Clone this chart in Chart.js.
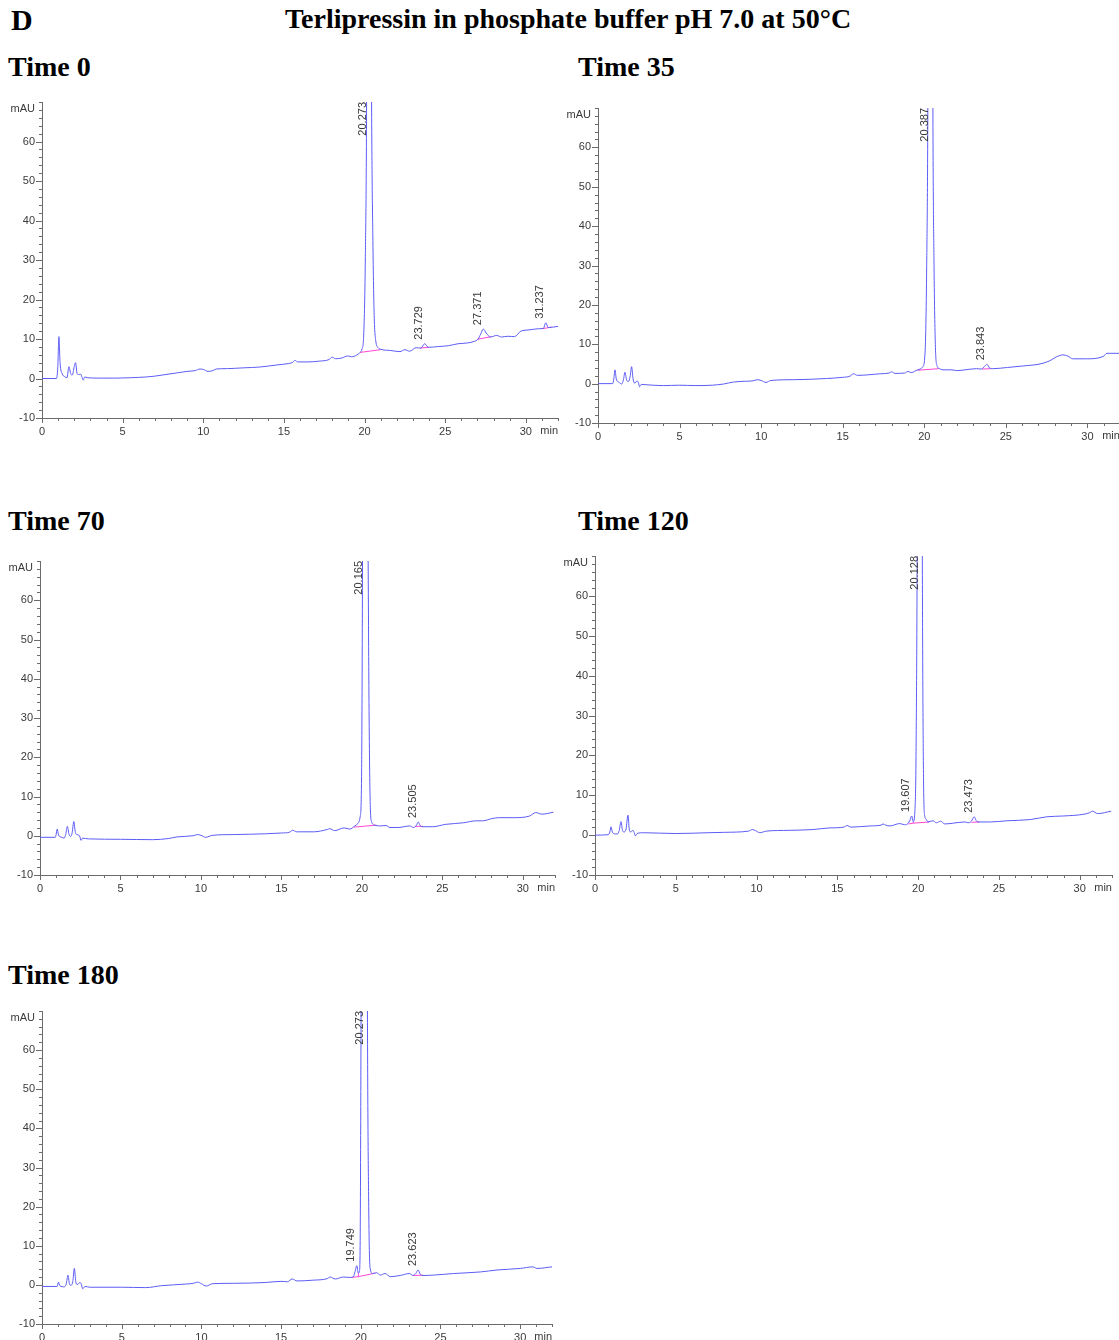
<!DOCTYPE html>
<html><head><meta charset="utf-8">
<script src="https://cdn.jsdelivr.net/npm/chart.js@4.4.1/dist/chart.umd.min.js"></script>
<style>
html,body{margin:0;padding:0;background:#fff;width:1119px;height:1340px;overflow:hidden;position:relative}
.t{position:absolute;font-family:'Liberation Serif','Times New Roman',serif;font-weight:bold;color:#000;white-space:nowrap;line-height:1}
canvas{position:absolute}
</style></head><body>
<div class="t" style="left:11px;top:5px;font-size:30px">D</div>
<div class="t" style="left:285px;top:5px;font-size:28px">Terlipressin in phosphate buffer pH 7.0 at 50°C</div>
<div class="t" style="left:8px;top:53px;font-size:28px">Time 0</div>
<div class="t" style="left:578px;top:53px;font-size:28px">Time 35</div>
<div class="t" style="left:8px;top:507px;font-size:28px">Time 70</div>
<div class="t" style="left:578px;top:507px;font-size:28px">Time 120</div>
<div class="t" style="left:8px;top:961px;font-size:28px">Time 180</div>
<canvas id="c0"></canvas>
<canvas id="c1"></canvas>
<canvas id="c2"></canvas>
<canvas id="c3"></canvas>
<canvas id="c4"></canvas>
<script>
// ---- Data: [retention time (min), absorbance (mAU)] ----
const trace0 = [[0,0],[0.9,0],[0.98,3],[1.05,10.6],[1.12,4],[1.25,1.2],[1.4,0.5],[1.55,0.2],[1.67,3.0],[1.78,1.2],[1.88,0.9],[2.0,3.0],[2.08,4.0],[2.18,1.2],[2.3,1.0],[2.4,1.1],[2.48,0.3],[2.56,-0.4],[2.65,0.4],[2.8,0.2],[3.5,0.1],[4.5,0.1],[5.5,0.2],[6.5,0.4],[7.0,0.6],[7.5,0.9],[8.0,1.2],[8.5,1.5],[9.0,1.8],[9.5,2.0],[9.8,2.4],[10.0,2.3],[10.3,1.8],[10.6,2.0],[10.8,2.4],[11.5,2.5],[12.5,2.7],[13.5,2.9],[14.5,3.4],[15.3,3.8],[15.55,4.1],[15.68,4.6],[15.85,4.2],[16.5,4.2],[17.2,4.4],[17.8,4.8],[18.0,5.4],[18.2,5.0],[18.6,5.2],[18.95,5.7],[19.2,5.5],[19.5,5.9],[19.7,6.5],[19.85,7.5],[19.95,11],[20.05,30],[20.13,70],[20.2,180],[20.273,350],[20.35,180],[20.44,70],[20.52,35],[20.6,16],[20.7,9.5],[20.85,7.8],[21.0,7.4],[21.6,7.1],[22.2,6.8],[22.5,7.3],[22.8,6.9],[23.2,7.8],[23.5,7.7],[23.73,8.8],[23.95,7.9],[24.6,8.1],[25.2,8.3],[25.8,8.8],[26.4,9.0],[26.8,9.4],[27.05,10.0],[27.2,11.2],[27.37,12.5],[27.55,11.5],[27.8,10.5],[28.2,10.9],[28.5,10.5],[28.9,10.7],[29.3,10.6],[29.7,12.0],[30.2,12.3],[30.8,12.6],[31.1,12.7],[31.24,14.1],[31.4,12.9],[32.0,13.2]];
const base0 = [[[19.72,6.6],[21.0,7.3]],[[23.45,7.7],[24.0,7.9]],[[27.0,9.9],[27.85,10.6]],[[31.0,12.6],[31.6,13.0]]];
const peaks0 = [20.273,23.729,27.371,31.237];

const trace35 = [[0,0],[0.9,0],[0.97,1.2],[1.04,3.5],[1.12,1.2],[1.3,0.3],[1.45,-0.1],[1.56,1.0],[1.65,2.9],[1.75,1.0],[1.85,0.5],[1.97,1.8],[2.06,4.3],[2.15,1.2],[2.25,0.1],[2.4,0.7],[2.48,0.2],[2.55,-0.8],[2.65,-0.2],[3,-0.3],[4,-0.5],[5,-0.4],[6,-0.5],[7,-0.4],[7.7,-0.1],[8.3,0.4],[9,0.6],[9.5,0.7],[9.75,1.0],[10.0,0.8],[10.3,0.3],[10.6,0.8],[12,1.0],[13,1.1],[14,1.3],[15,1.6],[15.45,1.9],[15.66,2.5],[15.9,2.1],[17.3,2.5],[17.85,2.7],[18.0,3.0],[18.2,2.6],[18.8,2.7],[19.0,3.1],[19.2,2.8],[19.6,3.5],[19.9,4.2],[20.05,8],[20.15,30],[20.22,70],[20.3,200],[20.387,380],[20.46,200],[20.53,70],[20.6,30],[20.68,10],[20.78,4.6],[20.95,3.8],[21.1,3.5],[21.7,3.5],[22.0,3.3],[22.5,3.5],[23.2,3.8],[23.5,3.7],[23.7,4.4],[23.84,4.9],[24.0,4.0],[24.2,3.8],[25.1,4.1],[26.1,4.5],[27.1,5.0],[27.7,5.8],[28.1,6.8],[28.5,7.3],[28.8,7.0],[29.1,6.3],[29.95,6.3],[30.97,6.9],[31.2,7.7],[31.4,7.7],[32,7.7]];
const base35 = [[[19.6,3.4],[20.9,3.8]],[[23.55,3.7],[24.1,3.8]]];
const peaks35 = [20.387,23.843];

const trace70 = [[0,-0.4],[0.95,-0.4],[1.0,0.3],[1.07,1.7],[1.15,0.2],[1.35,-0.4],[1.5,-0.6],[1.6,0.4],[1.7,2.4],[1.8,0.4],[1.9,-0.2],[2.0,0.8],[2.1,3.6],[2.2,0.8],[2.3,0.3],[2.4,0.2],[2.48,-0.3],[2.55,-1.2],[2.65,-0.6],[3,-0.8],[5,-0.9],[7,-1.0],[8,-0.7],[8.5,-0.3],[9.5,0.0],[9.8,0.3],[10.0,0.1],[10.3,-0.4],[10.7,0.1],[12,0.3],[14,0.5],[15,0.7],[15.5,0.9],[15.7,1.4],[15.95,1.0],[17.0,1.0],[17.85,1.6],[18.0,1.8],[18.3,1.3],[18.9,2.0],[19.25,1.7],[19.56,2.5],[19.77,3.2],[19.9,5],[19.98,15],[20.04,70],[20.1,180],[20.165,350],[20.25,180],[20.39,70],[20.45,30],[20.52,8],[20.6,3.6],[20.8,2.7],[21.1,2.5],[21.5,2.6],[21.74,2.1],[22.25,2.1],[22.98,2.5],[23.2,2.1],[23.38,2.6],[23.5,3.5],[23.62,2.6],[23.75,2.3],[24.4,2.3],[25.2,2.9],[26.3,3.3],[27.1,3.8],[27.5,3.8],[28.1,4.4],[28.5,4.6],[29.4,4.6],[30.4,5.0],[30.8,5.9],[31.2,5.5],[31.9,6.0]];
const base70 = [[[19.5,2.2],[20.9,2.7]],[[23.3,2.4],[23.8,2.4]]];
const peaks70 = [20.165,23.505];

const trace120 = [[0,0],[0.82,0.1],[0.92,0.8],[0.99,2.1],[1.08,0.7],[1.25,0.3],[1.4,0.3],[1.5,1.2],[1.61,3.4],[1.7,1.2],[1.79,0.8],[1.92,1.5],[2.04,5.0],[2.12,1.5],[2.2,0.8],[2.35,1.2],[2.43,0.6],[2.5,-0.2],[2.6,0.4],[3,0.6],[5,0.4],[7,0.6],[8,0.7],[9.5,1.0],[9.75,1.4],[9.95,1.1],[10.2,0.6],[10.6,1.0],[12,1.2],[13.5,1.4],[14.5,1.8],[15.4,2.0],[15.6,2.4],[15.85,2.0],[17.0,2.3],[17.7,2.5],[17.83,2.8],[18.0,2.5],[18.25,2.3],[18.86,2.9],[19.17,2.6],[19.37,2.9],[19.5,3.8],[19.6,4.8],[19.7,3.4],[19.8,6],[19.87,20],[19.94,70],[20.02,200],[20.128,380],[20.2,180],[20.26,70],[20.32,20],[20.4,5],[20.5,4.0],[20.6,3.3],[20.92,3.6],[21.13,3.1],[21.4,3.5],[21.65,2.8],[22.17,3.0],[22.9,3.3],[23.1,3.1],[23.3,3.5],[23.47,4.6],[23.6,3.6],[23.7,3.3],[24.47,3.3],[25.5,3.6],[26.94,3.9],[27.97,4.6],[29.0,4.8],[30.2,5.2],[30.6,5.6],[30.8,6.0],[31.1,5.4],[31.95,6.0]];
const base120 = [[[19.4,2.8],[19.7,3.0],[19.7,3.4]],[[19.7,3.0],[20.7,3.3]],[[23.3,3.2],[23.8,3.3]]];
const peaks120 = [19.607,20.128,23.473];

const trace180 = [[0,-0.4],[0.95,-0.4],[1.03,0.7],[1.12,-0.2],[1.4,-0.5],[1.52,0.2],[1.63,2.5],[1.72,0.3],[1.82,-0.1],[1.93,0.8],[2.03,4.2],[2.12,0.8],[2.2,0.1],[2.4,0.6],[2.48,0.0],[2.55,-1.0],[2.7,-0.4],[3,-0.6],[5,-0.6],[6.5,-0.7],[7.5,-0.2],[9,0.2],[9.5,0.4],[9.75,0.7],[10.0,0.3],[10.3,-0.3],[10.7,0.3],[12,0.4],[14,0.6],[15,0.9],[15.4,0.8],[15.7,1.5],[16.0,1.0],[17.0,1.2],[17.9,1.6],[18.08,2.0],[18.4,1.5],[18.9,2.0],[19.33,1.9],[19.54,2.1],[19.65,3.5],[19.75,4.9],[19.85,3.0],[19.92,3.5],[19.97,15],[20.02,70],[20.1,200],[20.273,380],[20.35,200],[20.42,70],[20.5,20],[20.59,4.2],[20.76,2.9],[21.0,3.1],[21.22,2.5],[21.53,2.9],[21.85,2.1],[22.47,2.4],[23.06,2.9],[23.27,2.4],[23.45,2.9],[23.6,3.8],[23.72,2.8],[23.84,2.4],[24.58,2.5],[25.83,2.9],[27.5,3.3],[28.55,3.8],[30.0,4.2],[30.8,4.6],[31.05,4.2],[32,4.6]];
const base180 = [[[19.4,1.9],[19.85,2.1],[19.85,3.0]],[[19.85,2.1],[20.9,3.0]],[[23.3,2.4],[23.9,2.5]]];
const peaks180 = [19.749,20.273,23.623];

const xTickLabels = [0,5,10,15,20,25,30];
const yTickLabels = [-10,0,10,20,30,40,50,60];

// ---- Style / layout ----
const BLUE = 'rgb(92,92,245)';
const PINK = 'rgb(255,70,210)';
const AXIS = '#6b6b6b';
const TXT = '#3a3a3a';
const FONT = '"Liberation Sans", Arial, sans-serif';
const YW = 42, XH = 28, PT = 12, PR = 10;

const layout = [
  {id:'c0', ax:42,  top:102,  w:516, h:316, trace:trace0,   base:base0,   peaks:peaks0},
  {id:'c1', ax:598, top:108,  w:522, h:315, trace:trace35,  base:base35,  peaks:peaks35},
  {id:'c2', ax:40,  top:561,  w:515, h:314, trace:trace70,  base:base70,  peaks:peaks70},
  {id:'c3', ax:595, top:556,  w:517, h:319, trace:trace120, base:base120, peaks:peaks120},
  {id:'c4', ax:42,  top:1011, w:510, h:313, trace:trace180, base:base180, peaks:peaks180}
];

const decor = {
  id:'decor',
  afterDatasetsDraw(chart, args, opts) {
    const {ctx, chartArea:a, scales:{x, y}} = chart;
    ctx.save();
    ctx.strokeStyle = AXIS; ctx.lineWidth = 1;
    ctx.beginPath();
    x.ticks.forEach(tk => {
      const px = Math.round(x.getPixelForValue(tk.value)) + 0.5;
      const len = xTickLabels.includes(tk.value) ? 5 : 3;
      ctx.moveTo(px, a.bottom); ctx.lineTo(px, a.bottom + len);
    });
    y.ticks.forEach(tk => {
      const py = Math.round(y.getPixelForValue(tk.value)) + 0.5;
      const len = yTickLabels.includes(tk.value) ? 6 : 3;
      ctx.moveTo(a.left - len, py); ctx.lineTo(a.left, py);
    });
    ctx.stroke();
    ctx.fillStyle = TXT;
    ctx.font = '11px ' + FONT;
    ctx.textAlign = 'right'; ctx.textBaseline = 'middle';
    ctx.fillText('mAU', a.left - 7, y.getPixelForValue(68.3));
    ctx.textAlign = 'center'; ctx.textBaseline = 'top';
    ctx.fillText('min', x.getPixelForValue(31.45), a.bottom + 7);
    // peak retention-time labels
    const tr = opts.trace;
    opts.peaks.forEach(pt => {
      let mv = -Infinity;
      tr.forEach(([t, v]) => { if (Math.abs(t - pt) <= 0.12 && v > mv) mv = v; });
      const lbl = pt.toFixed(3);
      const tw = ctx.measureText(lbl).width;
      const px = x.getPixelForValue(pt);
      const py = y.getPixelForValue(mv);
      const ay = Math.max(py - 4, a.top + tw);
      ctx.save();
      ctx.translate(px, ay);
      ctx.rotate(-Math.PI / 2);
      ctx.textAlign = 'left'; ctx.textBaseline = 'bottom';
      ctx.fillText(lbl, 0, 0);
      ctx.restore();
    });
    ctx.restore();
  }
};

layout.forEach(L => {
  const cv = document.getElementById(L.id);
  cv.width = YW + L.w + PR;
  cv.height = PT + L.h + XH + 2;
  cv.style.left = (L.ax - YW) + 'px';
  cv.style.top = (L.top - PT) + 'px';
  const basePts = [];
  L.base.forEach((seg, i) => {
    if (i > 0) basePts.push({x: seg[0][0] - 0.001, y: null});
    seg.forEach(([t, v]) => basePts.push({x: t, y: v}));
  });
  new Chart(cv, {
    type: 'line',
    data: {
      datasets: [
        {data: L.trace.map(([t, v]) => ({x: t, y: v})), borderColor: BLUE, borderWidth: 1,
         pointRadius: 0, cubicInterpolationMode: 'monotone', fill: false},
        {data: basePts, borderColor: PINK, borderWidth: 1, pointRadius: 0, tension: 0,
         fill: false, spanGaps: false}
      ]
    },
    options: {
      responsive: false, animation: false, events: [],
      layout: {padding: {top: PT, right: PR, left: 0, bottom: 2}},
      plugins: {legend: {display: false}, tooltip: {enabled: false},
                decor: {trace: L.trace, peaks: L.peaks}},
      scales: {
        x: {type: 'linear', min: 0, max: 32,
            afterFit: s => { s.height = XH; },
            ticks: {stepSize: 1, autoSkip: false, maxRotation: 0, minRotation: 0, padding: 3,
                    color: TXT, font: {family: FONT, size: 11},
                    callback: v => xTickLabels.includes(v) ? String(v) : ''},
            grid: {display: true, drawOnChartArea: false, tickLength: 4, tickColor: 'rgba(0,0,0,0)'},
            border: {display: true, color: AXIS, width: 1}},
        y: {type: 'linear', min: -10, max: 70,
            afterFit: s => { s.width = YW; },
            ticks: {stepSize: 2, autoSkip: false, padding: 3,
                    color: TXT, font: {family: FONT, size: 11},
                    callback: v => yTickLabels.includes(v) ? String(v) : ''},
            grid: {display: true, drawOnChartArea: false, tickLength: 4, tickColor: 'rgba(0,0,0,0)'},
            border: {display: true, color: AXIS, width: 1}}
      }
    },
    plugins: [decor]
  });
});
</script>
</body></html>
